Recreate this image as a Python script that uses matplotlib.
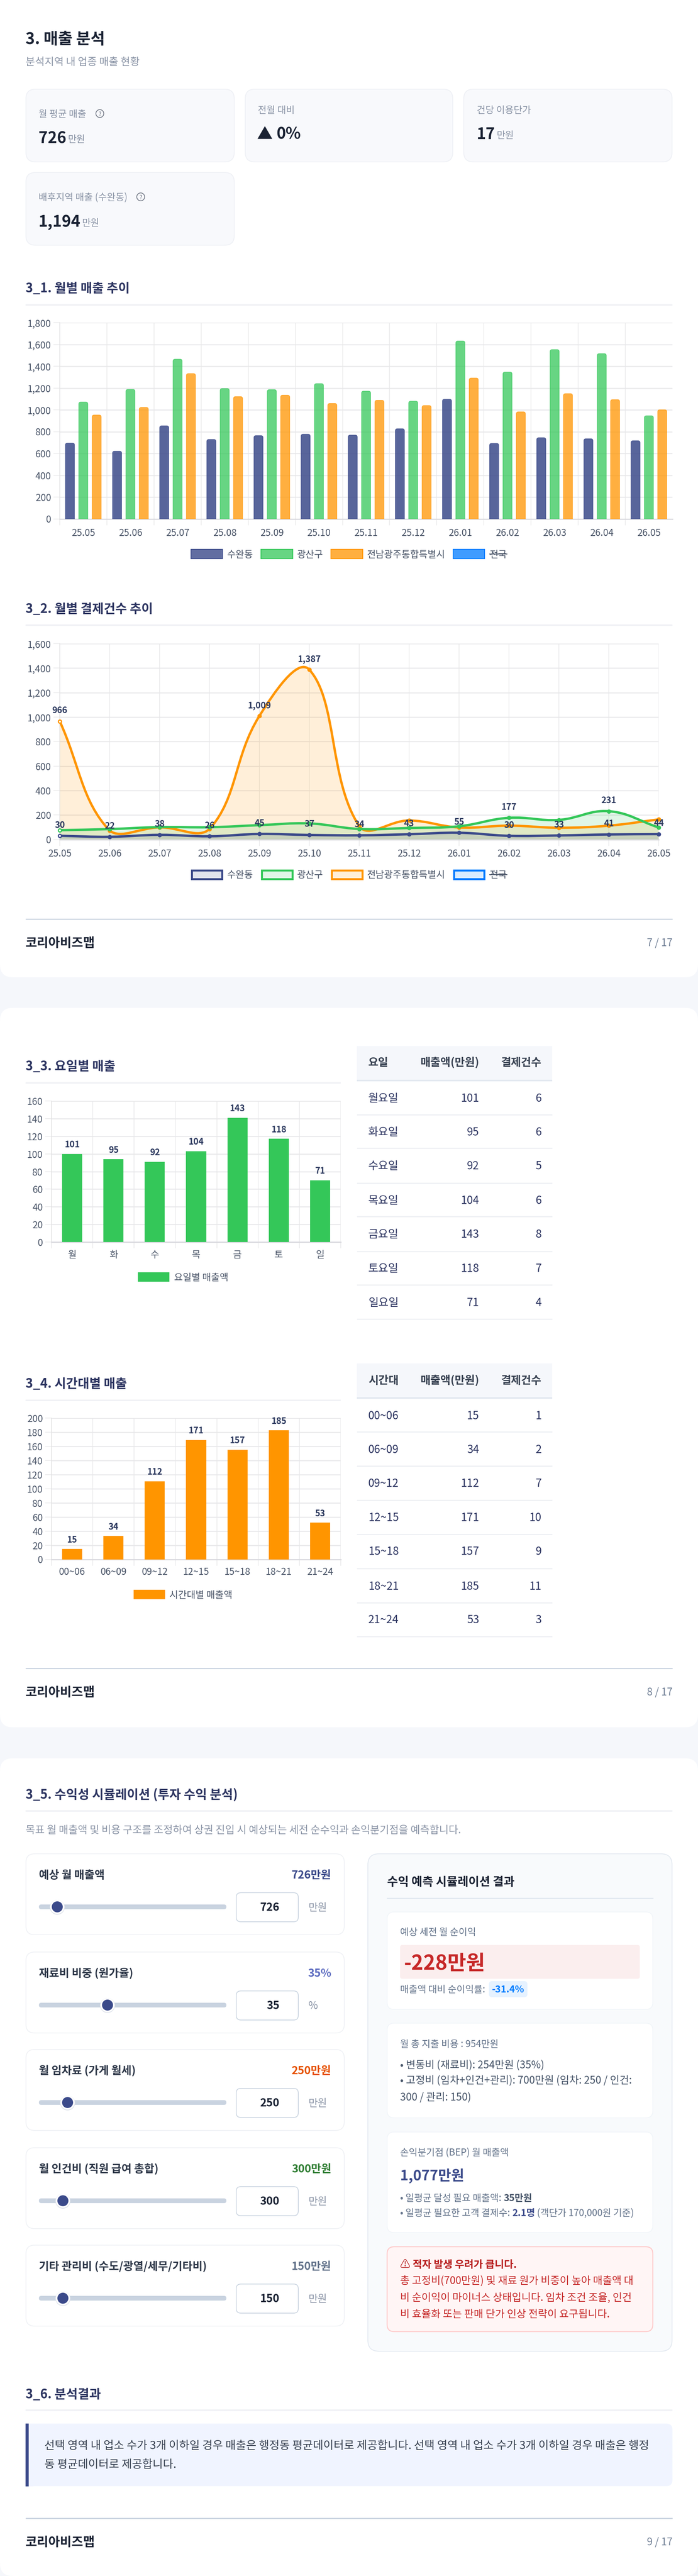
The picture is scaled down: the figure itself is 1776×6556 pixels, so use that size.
import matplotlib
matplotlib.use('Agg')
import matplotlib.pyplot as plt
from matplotlib.patches import FancyBboxPatch, Rectangle, Circle, PathPatch
from matplotlib.path import Path
import numpy as np

plt.rcParams['font.family'] = ['Noto Sans CJK KR', 'DejaVu Sans']

W, H = 1776, 6556

NAVY = '#3b4a8a'
GREEN = '#34c759'
ORANGE = '#ff9500'
BLUE = '#007bff'
INK = '#1a2233'
HEAD = '#2d3561'
AXIS = '#4a5568'
GREY = '#8a94a6'

# Data
months = ['25.05', '25.06', '25.07', '25.08', '25.09', '25.10', '25.11', '25.12',
          '26.01', '26.02', '26.03', '26.04', '26.05']
sales_suwan = [695, 620, 853, 728, 763, 776, 768, 826, 1097, 692, 744, 734, 716]
sales_gwangsan = [1071, 1187, 1464, 1195, 1185, 1240, 1171, 1079, 1631, 1346, 1552, 1515, 945]
sales_jeonnam = [952, 1022, 1332, 1121, 1134, 1058, 1087, 1039, 1291, 981, 1148, 1093, 1000]

count_suwan = [30, 22, 38, 26, 45, 37, 34, 43, 55, 30, 33, 41, 44]
count_gwangsan = [76, 85, 101, 100, 117, 131, 86, 94, 108, 177, 160, 231, 98]
count_jeonnam = [966, 72, 99, 85, 1009, 1387, 110, 155, 98, 113, 96, 113, 164]
legend_names = ['수완동', '광산구', '전남광주통합특별시', '전국']

weekdays = ['월', '화', '수', '목', '금', '토', '일']
weekday_bars = [100, 94, 91, 103, 141, 117, 70]
weekday_sales = [101, 95, 92, 104, 143, 118, 71]
weekday_counts = [6, 6, 5, 6, 8, 7, 4]

hours = ['00~06', '06~09', '09~12', '12~15', '15~18', '18~21', '21~24']
hour_bars = [14.5, 33, 110.5, 169, 155, 182.5, 52]
hour_sales = [15, 34, 112, 171, 157, 185, 53]
hour_counts = [1, 2, 7, 10, 9, 11, 3]

slider_names = ['예상 월 매출액', '재료비 비중 (원가율)', '월 임차료 (가게 월세)',
                '월 인건비 (직원 급여 총합)', '기타 관리비 (수도/광열/세무/기타비)']
slider_values = ['726', '35', '250', '300', '150']
slider_units = ['만원', '%', '만원', '만원', '만원']
slider_pos = [0.098, 0.366, 0.153, 0.128, 0.128]
slider_colors = [NAVY, '#5c6bc0', '#e65100', '#2e7d32', '#64748b']

fig = plt.figure(figsize=(W / 72, H / 72), dpi=72, facecolor='#f5f7fb')
page = fig.add_axes([0, 0, 1, 1])
page.set_xlim(0, W)
page.set_ylim(H, 0)
page.axis('off')


def text(x, y, s, size=24, color=INK, weight='normal', ha='left', **kw):
    # y is the visual middle of the glyphs, in pixels
    return page.text(x, y + 0.37 * size, s, fontsize=size, color=color, fontweight=weight,
                     ha=ha, va='baseline', **kw)


def chain(x, y, parts, size):
    # several runs of text on one line
    for s, color, weight in parts:
        t = text(x, y, s, size, color, weight, zorder=4)
        x = t.get_window_extent(fig.canvas.get_renderer()).x1
    return x


def box(x0, y0, x1, y1, r, fc, ec='none', lw=0, z=1):
    p = FancyBboxPatch((x0, y0), x1 - x0, y1 - y0, boxstyle=f'round,pad=0,rounding_size={r}',
                       fc=fc, ec=ec, lw=lw, zorder=z)
    page.add_patch(p)
    return p


def rule(x0, x1, y, color='#f0f1f5', lw=4):
    page.plot([x0, x1], [y, y], color=color, lw=lw, solid_capstyle='butt', zorder=2)


def section(y_title, y_rule, s, x1=1711):
    text(65, y_title, s, 32, HEAD, 'bold')
    rule(65, x1, y_rule)


def footer(y_rule, y_text, page_no):
    rule(65, 1711, y_rule, '#cbd5e1', 3)
    text(65, y_text, '코리아비즈맵', 32, INK, 'bold')
    text(1711, y_text, page_no, 26, '#718096', ha='right')


def make_axes(x0, x1, y_top, y_bottom):
    ax = fig.add_axes([x0 / W, 1 - y_bottom / H, (x1 - x0) / W, (y_bottom - y_top) / H])
    ax.set_facecolor('none')
    ax.set_zorder(5)
    for s in ['top', 'right']:
        ax.spines[s].set_visible(False)
    ax.spines['left'].set_color('#e0e0e0')
    ax.spines['left'].set_linewidth(1.5)
    ax.spines['bottom'].set_color('#d9d9de')
    ax.spines['bottom'].set_linewidth(3)
    ax.grid(axis='y', color='#e8e8ea', lw=2.5)
    ax.grid(axis='x', color='#e6e6e8', lw=1.5)
    ax.set_axisbelow(True)
    ax.tick_params(axis='y', length=16, width=1.5, color='#e6e6e8', labelsize=24, labelcolor=AXIS, pad=6)
    ax.tick_params(axis='x', length=16, width=1.5, color='#e6e6e8', labelsize=24, labelcolor=AXIS)
    return ax


def cat_axis(ax, labels, n_lines, pad):
    # tick lines between the categories, labels in the middle
    ax.set_xlim(-0.5, len(labels) - 0.5)
    ax.set_xticks(np.arange(n_lines) - 0.5)
    ax.set_xticklabels([])
    ax.set_xticks(np.arange(len(labels)), labels, minor=True)
    ax.tick_params(axis='x', which='minor', length=0, pad=pad, labelsize=24, labelcolor=AXIS)
    ax.tick_params(axis='x', which='major', pad=0)


def spline(xs, ys, sx, sy, ymax, t=0.4):
    # chart.js style curve, worked out in pixels and handed back in data units
    p = np.column_stack([np.asarray(xs, float) * sx, np.asarray(ys, float) * sy])
    verts = [tuple(p[0])]
    codes = [Path.MOVETO]
    cps = []
    for i in range(len(p)):
        a = p[max(i - 1, 0)]
        b = p[i]
        c = p[min(i + 1, len(p) - 1)]
        d1 = np.hypot(*(b - a))
        d2 = np.hypot(*(c - b))
        s1 = d1 / (d1 + d2)
        s2 = d2 / (d1 + d2)
        cps.append((b - t * s1 * (c - a), b + t * s2 * (c - a)))
    for i in range(len(p) - 1):
        verts += [tuple(cps[i][1]), tuple(cps[i + 1][0]), tuple(p[i + 1])]
        codes += [Path.CURVE4] * 3
    v = np.array(verts) / [sx, sy]
    v[:, 1] = np.clip(v[:, 1], 0, ymax)
    return v, codes


# page cards
box(0, -60, W, 2487, 32, 'white')
box(0, 2565, W, 4396, 32, 'white')
box(0, 4475, W, H, 32, 'white')

# ---- 3. header + kpi cards
text(65, 97, '3. 매출 분석', 40, INK, 'bold')
text(65, 156, '분석지역 내 업종 매출 현황', 26.4, GREY)

for x0, x1, y0, y1 in [(65, 597, 226, 413), (623, 1153, 226, 413), (1179, 1711, 226, 413), (65, 597, 438, 625)]:
    box(x0 + 1, y0 + 1, x1 - 1, y1 - 1, 24, '#f8f9fc', '#eef0f5', 2)


def help_icon(x, y):
    page.add_patch(Circle((x, y), 10, fc='none', ec='#6b7280', lw=1.8, zorder=3))
    text(x, y, '?', 15, '#6b7280', ha='center')


text(98, 289, '월 평균 매출', 24, GREY)
help_icon(254, 289)
x = chain(98, 350, [('726', INK, 'bold')], 40)
text(x + 4, 353, '만원', 24, GREY)

text(656, 279, '전월 대비', 24, GREY)
text(654, 339, '▲', 40, INK)
text(703, 339, '0%', 40, INK, 'bold')

text(1213, 279, '건당 이용단가', 24, GREY)
x = chain(1213, 339, [('17', INK, 'bold')], 40)
text(x + 4, 343, '만원', 24, GREY)

text(98, 501, '배후지역 매출 (수완동)', 24, GREY)
help_icon(358, 501)
x = chain(98, 562, [('1,194', INK, 'bold')], 40)
text(x + 4, 566, '만원', 24, GREY)

# ---- 3_1 monthly sales
section(732, 776, '3_1. 월별 매출 추이')
ax = make_axes(152, 1711, 821, 1320.5)
cat_axis(ax, months, 13, 24)
ax.set_ylim(0, 1800)
ax.set_yticks(range(0, 1801, 200), [f'{v:,}' for v in range(0, 1801, 200)])
y_per_x = 1800 / 499.5 * 120
for off, vals, col in [(-34, sales_suwan, NAVY), (0, sales_gwangsan, GREEN), (34, sales_jeonnam, ORANGE)]:
    for i, v in enumerate(vals):
        ax.add_patch(FancyBboxPatch((i + (off - 11.5) / 120, -100), 23 / 120, v + 100,
                                    boxstyle=f'round,pad=0,rounding_size={5 / 120}',
                                    mutation_aspect=y_per_x, fc=col, ec=col, lw=1.5,
                                    alpha=0.85 if col == NAVY else 0.75, zorder=3))


def legend(y0, y1, filled):
    entries = [(485, 567, 578, NAVY), (663, 746, 756, GREEN), (841, 924, 934, ORANGE), (1152, 1234, 1246, BLUE)]
    ym = (y0 + y1) / 2
    for (bx0, bx1, tx, col), name in zip(entries, legend_names):
        if filled:
            page.add_patch(Rectangle((bx0, y0), bx1 - bx0, y1 - y0, fc=col, alpha=0.8 if col == NAVY else 0.75,
                                     ec='none', zorder=3))
            page.add_patch(Rectangle((bx0 + 1, y0 + 1), bx1 - bx0 - 2, y1 - y0 - 2, fc='none', ec=col, lw=2, zorder=3))
        else:
            page.add_patch(Rectangle((bx0 + 2.5, y0 + 2.5), bx1 - bx0 - 5, y1 - y0 - 5, fc=col, alpha=0.15,
                                     ec='none', zorder=3))
            page.add_patch(Rectangle((bx0 + 2.5, y0 + 2.5), bx1 - bx0 - 5, y1 - y0 - 5, fc='none', ec=col, lw=5, zorder=3))
        t = text(tx, ym, name, 24, AXIS)
        if name == '전국':
            e = t.get_window_extent(fig.canvas.get_renderer())
            page.plot([e.x0, e.x1], [ym, ym], color=AXIS, lw=2, zorder=4)


legend(1397, 1423, True)

# ---- 3_2 monthly payment count
section(1548, 1591, '3_2. 월별 결제건수 추이')
ax = make_axes(152, 1676, 1638, 2136.5)
ax.set_xlim(0, 12)
ax.set_ylim(0, 1600)
ax.set_xticks(range(13), months)
ax.tick_params(axis='x', pad=8)
ax.set_yticks(range(0, 1601, 200), [f'{v:,}' for v in range(0, 1601, 200)])
sx, sy = 127, 498.5 / 1600
idx = list(range(13))
for vals, col in [(count_jeonnam, ORANGE), (count_gwangsan, GREEN), (count_suwan, NAVY)]:
    v, c = spline(idx, vals, sx, sy, 1600)
    fill_v = np.vstack([v, [12, 0], [0, 0], v[0]])
    ax.add_patch(PathPatch(Path(fill_v, c + [Path.LINETO, Path.LINETO, Path.CLOSEPOLY]),
                           fc=col, alpha=0.15, ec='none', zorder=2))
    ax.add_patch(PathPatch(Path(v, c), fc='none', ec=col, lw=6, zorder=3, clip_on=False))
    ax.plot(idx, vals, ls='none', marker='o', ms=9, mfc=col, mec=col, mew=2, zorder=4, clip_on=False)
    ax.plot(0, vals[0], ls='none', marker='o', ms=7, mfc='white', mec=col, mew=2, zorder=5, clip_on=False)

labelled = [(count_suwan, idx), (count_jeonnam, [0, 4, 5]), (count_gwangsan, [9, 11])]
for vals, where in labelled:
    for i in where:
        ax.annotate(f'{vals[i]:,}', (i, vals[i]), xytext=(0, 27), textcoords='offset pixels', ha='center', va='center',
                    fontsize=22, fontweight='bold', color='#2d3a5f', zorder=6, annotation_clip=False)

legend(2212, 2239, False)
footer(2339, 2398, '7 / 17')


def bar_chart(y_top, y_bottom, labels, bars, vals, ymax, step, color):
    ax = make_axes(131, 867, y_top, y_bottom)
    cat_axis(ax, labels, 8, 20)
    ax.set_ylim(0, ymax)
    ax.set_yticks(range(0, ymax + 1, step))
    ax.bar(range(7), bars, width=51 / 105, color=color, zorder=3)
    for i, (b, v) in enumerate(zip(bars, vals)):
        ax.annotate(str(v), (i, b), xytext=(0, 23), textcoords='offset pixels', ha='center', va='center',
                    fontsize=22, fontweight='bold', color='#2d3a5f', zorder=6)
    return ax


def table(head, rows, y_head0, y_head1, y_head_text, y_text, y_lines):
    page.add_patch(Rectangle((908, y_head0), 497, y_head1 - y_head0, fc='#f5f7fb', zorder=2))
    rule(908, 1405, y_head1 - 2, '#e2e8f0', 4)
    text(937, y_head_text, head, 28, '#374151', 'bold')
    text(1219, y_head_text, '매출액(만원)', 28, '#374151', 'bold', ha='right')
    text(1378, y_head_text, '결제건수', 28, '#374151', 'bold', ha='right')
    for (a, b, c), y, yl in zip(rows, y_text, y_lines):
        text(937, y, a, 28, HEAD)
        text(1219, y, str(b), 28, HEAD, ha='right')
        text(1378, y, str(c), 28, HEAD, ha='right')
        rule(908, 1405, yl, '#eef0f4', 3)


# ---- 3_3 weekday
section(2712, 2756, '3_3. 요일별 매출', 867)
bar_chart(2802, 3161, weekdays, weekday_bars, weekday_sales, 160, 20, GREEN)
page.add_patch(Rectangle((351, 3238), 80, 24, fc=GREEN, zorder=3))
text(443, 3250, '요일별 매출액', 24, AXIS)
table('요일', [(d + '요일', s, c) for d, s, c in zip(weekdays, weekday_sales, weekday_counts)],
      2662, 2752, 2703, [2794, 2880, 2966, 3054, 3140, 3227, 3314],
      [2837, 2922, 3011, 3096, 3185, 3270, 3357])

# ---- 3_4 hours
section(3520, 3564, '3_4. 시간대별 매출', 867)
bar_chart(3609, 3968.5, hours, hour_bars, hour_sales, 200, 20, ORANGE)
page.add_patch(Rectangle((340, 4046), 80, 24, fc=ORANGE, zorder=3))
text(431, 4058, '시간대별 매출액', 24, AXIS)
table('시간대', list(zip(hours, hour_sales, hour_counts)),
      3470, 3560, 3512, [3602, 3688, 3774, 3861, 3947, 4036, 4121],
      [3644, 3731, 3818, 3905, 3992, 4079, 4165])
footer(4246, 4305, '8 / 17')

# ---- 3_5 simulation
section(4566, 4609, '3_5. 수익성 시뮬레이션 (투자 수익 분석)')
text(65, 4656, '목표 월 매출액 및 비용 구조를 조정하여 상권 진입 시 예상되는 세전 순수익과 손익분기점을 예측합니다.', 26.4, GREY)

panel_tops = [4717, 4967, 5215, 5465, 5713]
for top, name, val, unit, pos, col in zip(panel_tops, slider_names, slider_values, slider_units, slider_pos, slider_colors):
    box(66, top + 1, 876, top + 207, 22, 'white', '#eff1f5', 2)
    text(99, top + 54, name, 28, '#2d3748', 'bold')
    text(843, top + 54, val + unit, 28, col, 'bold', ha='right')
    ym = top + 136
    box(99, ym - 6, 576, ym + 6, 6, '#c9d3e0', z=3)
    tx = 99 + pos * 477
    page.add_patch(Circle((tx, ym + 1), 19, fc='#dfe3ea', ec='none', zorder=3.5))
    page.add_patch(Circle((tx, ym), 18, fc='white', ec='none', zorder=4))
    page.add_patch(Circle((tx, ym), 14, fc=NAVY, ec='none', zorder=5))
    box(601, top + 100, 759, top + 174, 12, 'white', '#cbd5e1', 2, z=3)
    text(711, ym, val, 28, INK, 'bold', ha='right', zorder=5)
    text(785, ym, unit, 26, GREY)

# result panel
box(936, 4718, 1710, 5984, 28, '#f8fafc', '#e2e8f0', 2)
text(985, 4788, '수익 예측 시뮬레이션 결과', 30, INK, 'bold')
rule(984, 1662, 4831, '#e2e8f0', 3)

for y0, y1 in [(4866, 5114), (5149, 5390), (5426, 5682)]:
    box(985, y0, 1661, y1, 18, 'white', '#f1f5f9', 2, z=2)

GT = '#64748b'
text(1018, 4916, '예상 세전 월 순이익', 24, GT, zorder=4)
box(1018, 4950, 1628, 5036, 6, '#fbeeee', z=3)
text(1027, 4994, '-228만원', 52, '#c62828', 'bold', zorder=4)
text(1018, 5062, '매출액 대비 순이익률:', 24, GT, zorder=4)
box(1244, 5042, 1342, 5083, 8, '#e6f2ff', z=3)
text(1293, 5062, '-31.4%', 24, BLUE, 'bold', ha='center', zorder=4)

text(1018, 5201, '월 총 지출 비용 : 954만원', 24, GT, zorder=4)
text(1018, 5254, '• 변동비 (재료비): 254만원 (35%)', 26.4, '#475569', zorder=4)
text(1018, 5293, '• 고정비 (임차+인건+관리): 700만원 (임차: 250 / 인건:', 26.4, '#475569', zorder=4)
text(1018, 5336, '300 / 관리: 150)', 26.4, '#475569', zorder=4)

text(1018, 5477, '손익분기점 (BEP) 월 매출액', 24, GT, zorder=4)
text(1018, 5536, '1,077만원', 36, NAVY, 'bold', zorder=4)
chain(1018, 5593, [('• 일평균 달성 필요 매출액: ', GT, 'normal'), ('35만원', '#475569', 'bold')], 24)
chain(1018, 5631, [('• 일평균 필요한 고객 결제수: ', GT, 'normal'), ('2.1명', NAVY, 'bold'),
                   (' (객단가 170,000원 기준)', GT, 'normal')], 24)

box(985, 5718, 1661, 5934, 18, '#fff5f5', '#fecaca', 2.5, z=2)
chain(1018, 5762, [('⚠ ', '#b71c1c', 'normal'), ('적자 발생 우려가 큽니다.', '#b71c1c', 'bold')], 26)
warn_lines = ['총 고정비(700만원) 및 재료 원가 비중이 높아 매출액 대',
              '비 순이익이 마이너스 상태입니다. 임차 조건 조율, 인건',
              '비 효율화 또는 판매 단가 인상 전략이 요구됩니다.']
for y, s in zip([5803, 5846, 5888], warn_lines):
    text(1018, y, s, 26.4, '#c62828', zorder=4)

# ---- 3_6 result
section(6092, 6134, '3_6. 분석결과')
box(65, 6168, 1711, 6327.5, 16, '#f0f4ff')
page.add_patch(Rectangle((65, 6168), 20, 159.5, fc='#f0f4ff', zorder=1.5))
page.add_patch(Rectangle((65, 6168), 8, 159.5, fc=NAVY, zorder=2))
text(113, 6222, '선택 영역 내 업소 수가 3개 이하일 경우 매출은 행정동 평균데이터로 제공합니다. 선택 영역 내 업소 수가 3개 이하일 경우 매출은 행정', 28.5, '#374151')
text(113, 6270, '동 평균데이터로 제공합니다.', 28.5, '#374151')
footer(6409, 6468, '9 / 17')

fig.savefig('out.png', dpi=72, facecolor=fig.get_facecolor())
